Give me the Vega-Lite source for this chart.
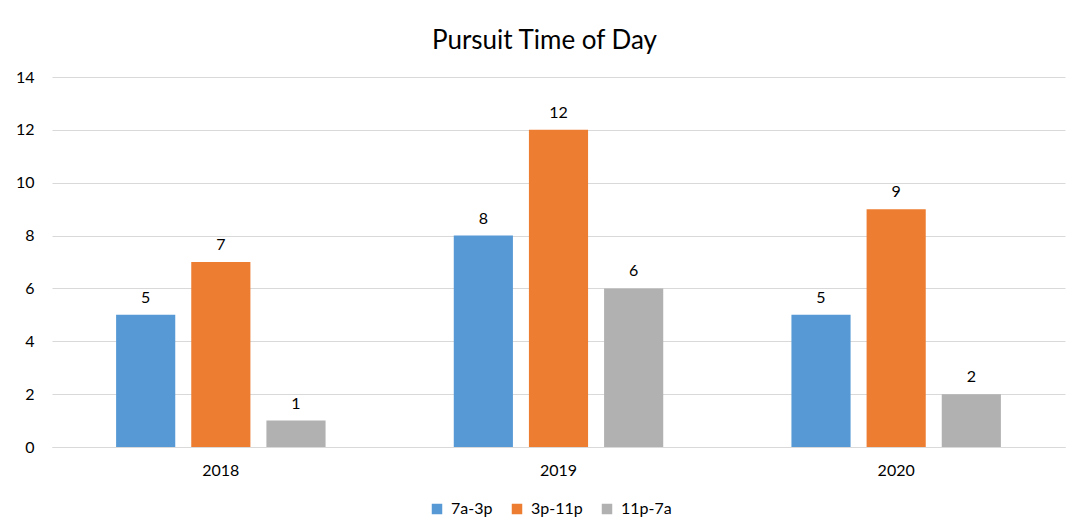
{
  "$schema": "https://vega.github.io/schema/vega-lite/v6.json",
  "width": 1013,
  "height": 370,
  "autosize": "none",
  "padding": {"left": 52, "top": 77, "right": 8, "bottom": 82},
  "background": "white",
  "title": {"text": "Pursuit Time of Day", "font": "Lato", "fontSize": 26, "fontWeight": "normal", "color": "#000000", "anchor": "middle", "offset": 15, "dx": -14},
  "data": {"values": [
    {"year": "2018", "shift": "7a-3p", "count": 5},
    {"year": "2018", "shift": "3p-11p", "count": 7},
    {"year": "2018", "shift": "11p-7a", "count": 1},
    {"year": "2019", "shift": "7a-3p", "count": 8},
    {"year": "2019", "shift": "3p-11p", "count": 12},
    {"year": "2019", "shift": "11p-7a", "count": 6},
    {"year": "2020", "shift": "7a-3p", "count": 5},
    {"year": "2020", "shift": "3p-11p", "count": 9},
    {"year": "2020", "shift": "11p-7a", "count": 2}
  ]},
  "config": {"view": {"stroke": null}, "font": "Lato"},
  "encoding": {
    "x": {"field": "year", "type": "nominal", "scale": {"paddingInner": 0, "paddingOuter": 0},
      "axis": {"title": null, "labelAngle": 0, "domainColor": "#d9d9d9", "ticks": false, "labelPadding": 15, "labelFontSize": 16, "labelColor": "#000000", "labelFont": "Lato"}},
    "xOffset": {"field": "shift", "type": "nominal", "sort": ["7a-3p", "3p-11p", "11p-7a"], "scale": {"paddingInner": 0.213, "paddingOuter": 0.853}},
    "y": {"field": "count", "type": "quantitative", "scale": {"domain": [0, 14]},
      "axis": {"title": null, "values": [0, 2, 4, 6, 8, 10, 12, 14], "domain": false, "ticks": false, "gridColor": "#d9d9d9", "labelPadding": 18, "labelFontSize": 16, "labelColor": "#000000", "labelFont": "Lato"}}
  },
  "layer": [
    {"mark": {"type": "bar"},
     "encoding": {"color": {"field": "shift", "type": "nominal", "sort": ["7a-3p", "3p-11p", "11p-7a"],
       "scale": {"domain": ["7a-3p", "3p-11p", "11p-7a"], "range": ["#5699D5", "#ED7D31", "#B1B1B1"]},
       "legend": {"title": null, "orient": "none", "legendX": 377, "legendY": 424, "direction": "horizontal", "symbolType": "square", "symbolSize": 110, "symbolStrokeWidth": 0, "symbolOpacity": 1, "labelFontSize": 16, "labelFont": "Lato", "labelColor": "#000000", "columnPadding": 16, "labelOffset": 6}}}},
    {"mark": {"type": "text", "dy": -17, "fontSize": 16, "font": "Lato", "color": "#000000"},
     "encoding": {"text": {"field": "count", "type": "quantitative"}}}
  ]
}
